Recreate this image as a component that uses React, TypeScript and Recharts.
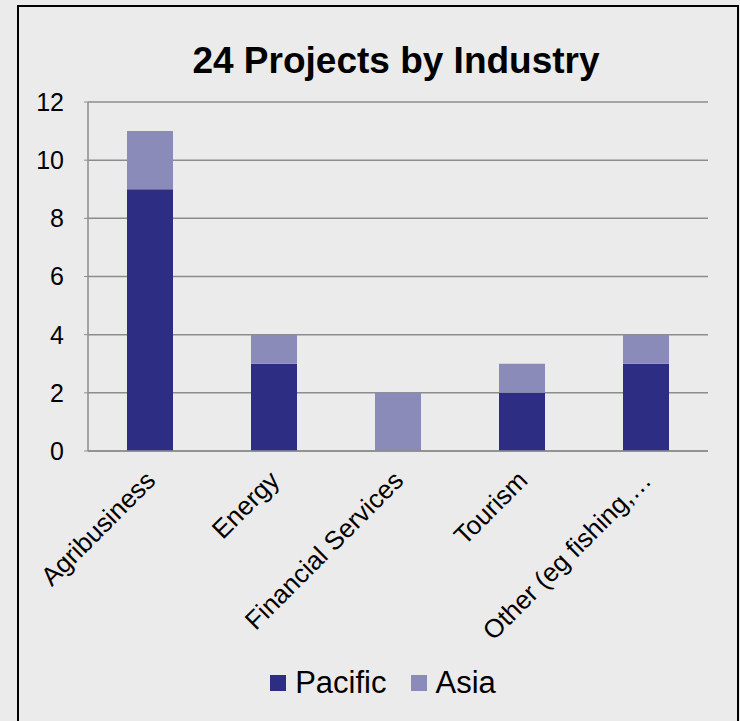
import React from "react";
import {
  BarChart,
  Bar,
  XAxis,
  YAxis,
  CartesianGrid,
  Legend,
} from "recharts";

const industries = [
  "Agribusiness",
  "Energy",
  "Financial Services",
  "Tourism",
  "Other (eg fishing,…",
];
const pacific = [9, 3, 0, 2, 3];
const asia = [2, 1, 2, 1, 1];
const yTicks = [0, 2, 4, 6, 8, 10, 12];

const SERIES = [
  { key: "Pacific", color: "#2d2d84" },
  { key: "Asia", color: "#8b8bb9" },
];

const data = industries.map((name, i) => ({
  name,
  Pacific: pacific[i],
  Asia: asia[i],
}));

const FONT = "'Liberation Sans', Arial, sans-serif";

const AngledTick = (props: any) => {
  const { x, y, payload } = props;
  const ax = x + 7;
  const ay = y + 23;
  return (
    <text
      x={ax}
      y={ay}
      transform={`rotate(-45, ${ax}, ${ay})`}
      textAnchor="end"
      fontSize={26}
      fontFamily={FONT}
      fill="#000"
    >
      {payload.value}
    </text>
  );
};

// legend drawn in series order (Pacific first), like the original
const LegendBox = () => (
  <div
    style={{
      display: "flex",
      justifyContent: "center",
      alignItems: "center",
      paddingTop: 14,
      paddingLeft: 58,
      fontFamily: FONT,
      fontSize: 31,
      color: "#000",
    }}
  >
    {SERIES.map((s, i) => (
      <div
        key={s.key}
        style={{
          display: "flex",
          alignItems: "center",
          marginLeft: i ? 24 : 0,
        }}
      >
        <span
          style={{
            display: "inline-block",
            width: 16,
            height: 16,
            background: s.color,
            marginRight: 9,
          }}
        />
        <span>{s.key}</span>
      </div>
    ))}
  </div>
);

export default function App() {
  return (
    <div
      style={{
        position: "absolute",
        left: 0,
        top: 0,
        width: 740,
        height: 721,
        background: "#ebebeb",
        overflow: "hidden",
      }}
    >
      <div
        style={{
          position: "absolute",
          left: 17,
          top: 5,
          width: 722,
          height: 740,
          border: "2px solid #000",
          boxSizing: "border-box",
        }}
      />
      <div
        style={{
          position: "absolute",
          left: 0,
          width: 792,
          top: 40,
          textAlign: "center",
          fontFamily: FONT,
          fontWeight: "bold",
          fontSize: 37,
          color: "#000",
          lineHeight: "42px",
        }}
      >
        24 Projects by Industry
      </div>
      <div style={{ position: "absolute", left: 0, top: 0 }}>
        <BarChart
          width={740}
          height={721}
          data={data}
          margin={{ top: 102, right: 32, left: 0, bottom: 0 }}
        >
          <CartesianGrid
            vertical={false}
            stroke="#8c8c8c"
            strokeWidth={1.5}
          />
          <XAxis
            dataKey="name"
            interval={0}
            height={200}
            tickLine={false}
            axisLine={{ stroke: "#8c8c8c", strokeWidth: 1.5 }}
            tick={<AngledTick />}
          />
          <YAxis
            width={88}
            domain={[0, 12]}
            ticks={yTicks}
            tickSize={4}
            tickMargin={20}
            axisLine={{ stroke: "#8c8c8c", strokeWidth: 1.5 }}
            tickLine={{ stroke: "#8c8c8c" }}
            tick={{ fontSize: 25, fontFamily: FONT, fill: "#000" }}
          />
          <Legend verticalAlign="bottom" height={70} content={<LegendBox />} />
          {SERIES.map((s) => (
            <Bar
              key={s.key}
              dataKey={s.key}
              stackId="a"
              fill={s.color}
              barSize={46}
              isAnimationActive={false}
            />
          ))}
        </BarChart>
      </div>
    </div>
  );
}
